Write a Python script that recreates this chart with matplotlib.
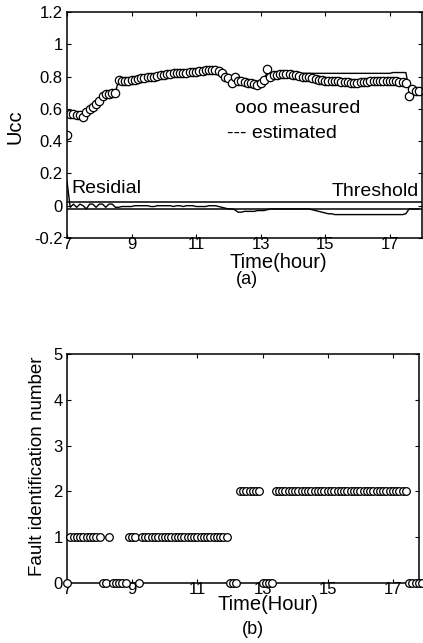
import numpy as np
import matplotlib
matplotlib.use("Agg")
import matplotlib.pyplot as plt

plt.rcParams['font.family'] = ['Liberation Sans', 'DejaVu Sans']

# time grid (hours), 0.1 h step
time = np.round(np.arange(7.0, 17.95, 0.1), 2)

measured = [
    0.44, 0.57, 0.57, 0.56, 0.56, 0.55, 0.58, 0.60, 0.61, 0.63,   # 7.0-7.9
    0.65, 0.68, 0.69, 0.69, 0.70, 0.70, 0.78, 0.77, 0.77, 0.775,  # 8.0-8.9
    0.78, 0.78, 0.785, 0.79, 0.79, 0.795, 0.80, 0.80, 0.805, 0.81,  # 9.0-9.9
    0.81, 0.815, 0.815, 0.82, 0.82, 0.82, 0.825, 0.825, 0.83, 0.83,  # 10.0-10.9
    0.83, 0.835, 0.835, 0.84, 0.84, 0.84, 0.84, 0.835, 0.82, 0.80,  # 11.0-11.9
    0.79, 0.76, 0.80, 0.77, 0.77, 0.765, 0.76, 0.76, 0.755, 0.75,  # 12.0-12.9
    0.76, 0.78, 0.85, 0.80, 0.81, 0.81, 0.815, 0.815, 0.815, 0.815,  # 13.0-13.9
    0.81, 0.81, 0.805, 0.80, 0.80, 0.795, 0.79, 0.785, 0.78, 0.78,  # 14.0-14.9
    0.775, 0.775, 0.77, 0.77, 0.77, 0.765, 0.765, 0.765, 0.76, 0.76,  # 15.0-15.9
    0.76, 0.765, 0.765, 0.765, 0.77, 0.77, 0.77, 0.77, 0.775, 0.775,  # 16.0-16.9
    0.775, 0.77, 0.77, 0.765, 0.765, 0.76, 0.68, 0.72, 0.71, 0.71,  # 17.0-17.9
]

estimated = [
    0.57, 0.57, 0.57, 0.56, 0.56, 0.56, 0.58, 0.60, 0.61, 0.63,
    0.65, 0.68, 0.69, 0.69, 0.70, 0.70, 0.78, 0.77, 0.77, 0.775,
    0.78, 0.78, 0.785, 0.79, 0.79, 0.795, 0.80, 0.80, 0.805, 0.81,
    0.81, 0.815, 0.815, 0.82, 0.82, 0.82, 0.825, 0.825, 0.83, 0.83,
    0.83, 0.835, 0.835, 0.84, 0.84, 0.84, 0.84, 0.84, 0.83, 0.81,
    0.80, 0.80, 0.80, 0.79, 0.79, 0.785, 0.78, 0.78, 0.775, 0.77,
    0.775, 0.79, 0.82, 0.82, 0.82, 0.82, 0.82, 0.82, 0.82, 0.82,
    0.82, 0.82, 0.82, 0.82, 0.82, 0.82, 0.82, 0.82, 0.82, 0.82,
    0.82, 0.82, 0.82, 0.82, 0.82, 0.82, 0.82, 0.82, 0.82, 0.82,
    0.82, 0.82, 0.82, 0.82, 0.82, 0.82, 0.82, 0.82, 0.82, 0.82,
    0.82, 0.825, 0.825, 0.825, 0.825, 0.825, 0.72, 0.72, 0.71, 0.71,
]

residual = [
    0.15, -0.01, 0.01, -0.01, 0.01, 0.00, -0.02, 0.01, 0.01, -0.01,
    0.01, 0.01, -0.01, 0.01, 0.01, -0.01, -0.01, -0.005, -0.005, -0.005,
    -0.005, 0.00, 0.00, 0.00, 0.00, 0.00, -0.005, -0.005, 0.00, 0.00,
    0.00, 0.00, 0.00, -0.005, 0.00, 0.00, -0.005, 0.00, 0.00, 0.00,
    -0.005, -0.005, -0.005, -0.005, 0.00, 0.00, 0.00, -0.005, -0.01, -0.015,
    -0.02, -0.02, -0.025, -0.04, -0.04, -0.035, -0.035, -0.035, -0.035, -0.03,
    -0.03, -0.03, -0.025, -0.02, -0.02, -0.02, -0.02, -0.02, -0.02, -0.02,
    -0.02, -0.02, -0.02, -0.02, -0.02, -0.02, -0.025, -0.03, -0.035, -0.04,
    -0.045, -0.05, -0.05, -0.055, -0.055, -0.055, -0.055, -0.055, -0.055, -0.055,
    -0.055, -0.055, -0.055, -0.055, -0.055, -0.055, -0.055, -0.055, -0.055, -0.055,
    -0.055, -0.055, -0.055, -0.055, -0.055, -0.05, -0.02, -0.02, -0.02, -0.02,
]

threshold_hi = 0.02
threshold_lo = -0.02

# fault identification number at each time step
fault_id = [
    0, 1, 1, 1, 1, 1, 1, 1, 1, 1,     # 7.0-7.9
    1, 0, 0, 1, 0, 0, 0, 0, 0, 1,     # 8.0-8.9
    1, 1, 0, 1, 1, 1, 1, 1, 1, 1,     # 9.0-9.9
    1, 1, 1, 1, 1, 1, 1, 1, 1, 1,     # 10.0-10.9
    1, 1, 1, 1, 1, 1, 1, 1, 1, 1,     # 11.0-11.9
    0, 0, 0, 2, 2, 2, 2, 2, 2, 2,     # 12.0-12.9
    0, 0, 0, 0, 2, 2, 2, 2, 2, 2,     # 13.0-13.9
    2, 2, 2, 2, 2, 2, 2, 2, 2, 2,     # 14.0-14.9
    2, 2, 2, 2, 2, 2, 2, 2, 2, 2,     # 15.0-15.9
    2, 2, 2, 2, 2, 2, 2, 2, 2, 2,     # 16.0-16.9
    2, 2, 2, 2, 2, 0, 0, 0, 0, 0,     # 17.0-17.9
]

xticks = [7, 9, 11, 13, 15, 17]
yticks_a = [-0.2, 0, 0.2, 0.4, 0.6, 0.8, 1, 1.2]
yticklabels_a = ['-0.2', '0', '0.2', '0.4', '0.6', '0.8', '1', '1.2']
yticks_b = [0, 1, 2, 3, 4, 5]

W, H = 423, 643
fig = plt.figure(figsize=(W / 100, H / 100), dpi=100)

def style(ax):
    ax.tick_params(direction='in', top=True, right=True, labelsize=12,
                   length=3, width=0.8)
    ax.tick_params(axis='x', pad=-1)
    ax.tick_params(axis='y', pad=3)
    for s in ax.spines.values():
        s.set_linewidth(1.1)

# ---- (a)
ax1 = fig.add_axes([67 / W, 1 - 238 / H, 355 / W, 226 / H])
ax1.plot(time, estimated, color='black', lw=1.0)
ax1.plot(time, measured, linestyle='none', marker='o', markersize=6,
         markerfacecolor='white', markeredgecolor='black', markeredgewidth=0.9)
ax1.plot(time, residual, color='black', lw=1.0)
ax1.axhline(threshold_hi, color='black', lw=1.1)
ax1.axhline(threshold_lo, color='black', lw=1.1)
ax1.set_xlim(7, 18)
ax1.set_ylim(-0.2, 1.2)
ax1.set_xticks(xticks)
ax1.set_yticks(yticks_a)
ax1.set_yticklabels(yticklabels_a)
style(ax1)
ax1.text(7.15, 0.105, 'Residial', fontsize=14, ha='left', va='center')
ax1.text(17.9, 0.085, 'Threshold', fontsize=14, ha='right', va='center')
ax1.text(12.2, 0.605, 'ooo measured', fontsize=14, ha='left', va='center')
ax1.text(11.95, 0.445, '--- estimated', fontsize=14, ha='left', va='center')
fig.text(15 / W, 1 - 127 / H, 'Ucc', fontsize=14.5, rotation=90,
         ha='center', va='center')
fig.text(278 / W, 1 - 262 / H, 'Time(hour)', fontsize=14.5,
         ha='center', va='center')
fig.text(247 / W, 1 - 279 / H, '(a)', fontsize=13, ha='center', va='center')

# ---- (b)
ax2 = fig.add_axes([67 / W, 1 - 583 / H, 352 / W, 229 / H])
ax2.plot(time, fault_id, linestyle='none', marker='o', markersize=5.5,
         markerfacecolor='white', markeredgecolor='black', markeredgewidth=0.9,
         clip_on=False, zorder=3)
ax2.set_xlim(7, 17.8)
ax2.set_ylim(0, 5)
ax2.set_xticks(xticks)
ax2.set_yticks(yticks_b)
style(ax2)
fig.text(38 / W, 1 - 466 / H, 'Fault identification number', fontsize=13.5,
         rotation=90, ha='center', va='center')
fig.text(268 / W, 1 - 605 / H, 'Time(Hour)', fontsize=14.5,
         ha='center', va='center')
fig.text(253 / W, 1 - 629 / H, '(b)', fontsize=13, ha='center', va='center')

fig.savefig('out.png', dpi=100)
